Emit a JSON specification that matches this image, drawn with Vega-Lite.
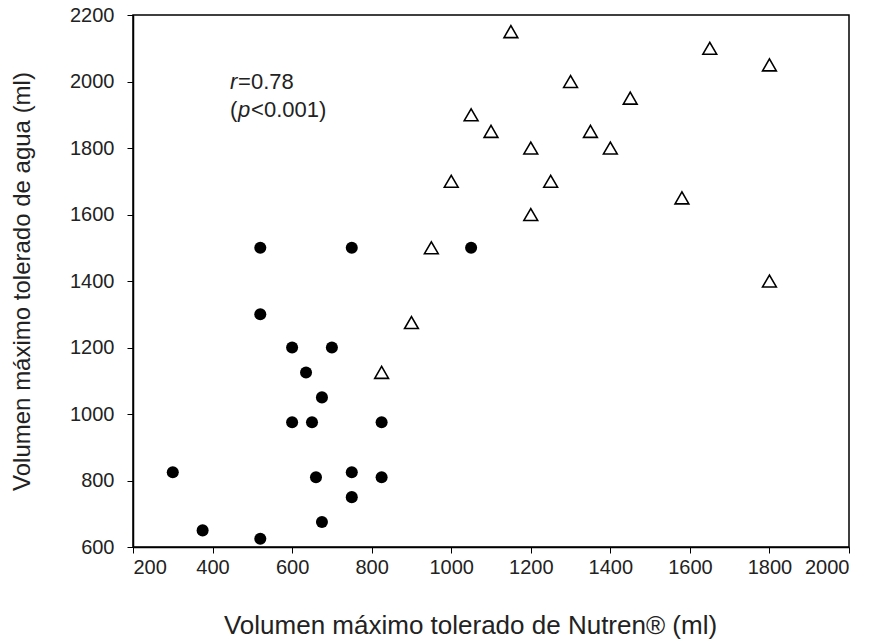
{
  "$schema": "https://vega.github.io/schema/vega-lite/v6.json",
  "autosize": "none",
  "width": 716,
  "height": 532,
  "padding": {"left": 133, "top": 15, "right": 32, "bottom": 97},
  "background": "white",
  "config": {
    "view": {"stroke": "black", "strokeWidth": 1.5},
    "axis": {
      "grid": false,
      "domainColor": "black",
      "domainWidth": 1.5,
      "tickColor": "black",
      "tickSize": 6,
      "labelFont": "Liberation Sans",
      "labelFontSize": 20,
      "labelColor": "#222",
      "titleFont": "Liberation Sans",
      "titleFontWeight": "normal",
      "titleColor": "#222"
    }
  },
  "datasets": {
    "puntos": [
      {"nutren": 520, "agua": 1500, "grupo": "circulo"},
      {"nutren": 750, "agua": 1500, "grupo": "circulo"},
      {"nutren": 1050, "agua": 1500, "grupo": "circulo"},
      {"nutren": 520, "agua": 1300, "grupo": "circulo"},
      {"nutren": 600, "agua": 1200, "grupo": "circulo"},
      {"nutren": 700, "agua": 1200, "grupo": "circulo"},
      {"nutren": 635, "agua": 1125, "grupo": "circulo"},
      {"nutren": 675, "agua": 1050, "grupo": "circulo"},
      {"nutren": 600, "agua": 975, "grupo": "circulo"},
      {"nutren": 650, "agua": 975, "grupo": "circulo"},
      {"nutren": 825, "agua": 975, "grupo": "circulo"},
      {"nutren": 300, "agua": 825, "grupo": "circulo"},
      {"nutren": 660, "agua": 810, "grupo": "circulo"},
      {"nutren": 750, "agua": 825, "grupo": "circulo"},
      {"nutren": 825, "agua": 810, "grupo": "circulo"},
      {"nutren": 750, "agua": 750, "grupo": "circulo"},
      {"nutren": 675, "agua": 675, "grupo": "circulo"},
      {"nutren": 375, "agua": 650, "grupo": "circulo"},
      {"nutren": 520, "agua": 625, "grupo": "circulo"},
      {"nutren": 1150, "agua": 2150, "grupo": "triangulo"},
      {"nutren": 1650, "agua": 2100, "grupo": "triangulo"},
      {"nutren": 1800, "agua": 2050, "grupo": "triangulo"},
      {"nutren": 1300, "agua": 2000, "grupo": "triangulo"},
      {"nutren": 1450, "agua": 1950, "grupo": "triangulo"},
      {"nutren": 1050, "agua": 1900, "grupo": "triangulo"},
      {"nutren": 1100, "agua": 1850, "grupo": "triangulo"},
      {"nutren": 1350, "agua": 1850, "grupo": "triangulo"},
      {"nutren": 1200, "agua": 1800, "grupo": "triangulo"},
      {"nutren": 1400, "agua": 1800, "grupo": "triangulo"},
      {"nutren": 1000, "agua": 1700, "grupo": "triangulo"},
      {"nutren": 1250, "agua": 1700, "grupo": "triangulo"},
      {"nutren": 1580, "agua": 1650, "grupo": "triangulo"},
      {"nutren": 1200, "agua": 1600, "grupo": "triangulo"},
      {"nutren": 950, "agua": 1500, "grupo": "triangulo"},
      {"nutren": 1800, "agua": 1400, "grupo": "triangulo"},
      {"nutren": 900, "agua": 1275, "grupo": "triangulo"},
      {"nutren": 825, "agua": 1125, "grupo": "triangulo"}
    ],
    "linea1": [{"nutren": 444, "agua": 2000}],
    "linea2": [{"nutren": 444, "agua": 1915}]
  },
  "layer": [
    {
      "data": {"name": "puntos"},
      "transform": [{"filter": "datum.grupo === 'circulo'"}],
      "mark": {"type": "point", "shape": "circle", "filled": true, "color": "black", "size": 145, "opacity": 1},
      "encoding": {
        "x": {"field": "nutren", "type": "quantitative", "scale": {"domain": [200, 2000], "nice": false, "zero": false},
          "axis": {"values": [200, 400, 600, 800, 1000, 1200, 1400, 1600, 1800, 2000], "format": "d", "labelPadding": 4, "titlePadding": 35, "titleFontSize": 26, "titleX": 337},
          "title": "Volumen máximo tolerado de Nutren® (ml)"},
        "y": {"field": "agua", "type": "quantitative", "scale": {"domain": [600, 2200], "nice": false, "zero": false},
          "axis": {"values": [600, 800, 1000, 1200, 1400, 1600, 1800, 2000, 2200], "format": "d", "labelPadding": 13, "titlePadding": 35, "titleFontSize": 24},
          "title": "Volumen máximo tolerado de agua (ml)"}
      }
    },
    {
      "data": {"name": "puntos"},
      "transform": [{"filter": "datum.grupo === 'triangulo'"}],
      "mark": {"type": "point", "shape": "triangle-up", "filled": false, "stroke": "black", "strokeWidth": 1.6, "size": 190, "opacity": 1},
      "encoding": {
        "x": {"field": "nutren", "type": "quantitative"},
        "y": {"field": "agua", "type": "quantitative"}
      }
    },
    {
      "data": {"name": "linea1"},
      "mark": {"type": "text", "text": "r", "align": "left", "baseline": "middle", "font": "Liberation Sans", "fontSize": 22, "fontStyle": "italic", "color": "#222"},
      "encoding": {"x": {"field": "nutren", "type": "quantitative"}, "y": {"field": "agua", "type": "quantitative"}}
    },
    {
      "data": {"name": "linea1"},
      "mark": {"type": "text", "text": "=0.78", "align": "left", "baseline": "middle", "font": "Liberation Sans", "fontSize": 22, "color": "#222", "dx": 8},
      "encoding": {"x": {"field": "nutren", "type": "quantitative"}, "y": {"field": "agua", "type": "quantitative"}}
    },
    {
      "data": {"name": "linea2"},
      "mark": {"type": "text", "text": "(", "align": "left", "baseline": "middle", "font": "Liberation Sans", "fontSize": 22, "color": "#222"},
      "encoding": {"x": {"field": "nutren", "type": "quantitative"}, "y": {"field": "agua", "type": "quantitative"}}
    },
    {
      "data": {"name": "linea2"},
      "mark": {"type": "text", "text": "p", "align": "left", "baseline": "middle", "font": "Liberation Sans", "fontSize": 22, "fontStyle": "italic", "color": "#222", "dx": 8},
      "encoding": {"x": {"field": "nutren", "type": "quantitative"}, "y": {"field": "agua", "type": "quantitative"}}
    },
    {
      "data": {"name": "linea2"},
      "mark": {"type": "text", "text": "<0.001)", "align": "left", "baseline": "middle", "font": "Liberation Sans", "fontSize": 22, "color": "#222", "dx": 21},
      "encoding": {"x": {"field": "nutren", "type": "quantitative"}, "y": {"field": "agua", "type": "quantitative"}}
    }
  ]
}
